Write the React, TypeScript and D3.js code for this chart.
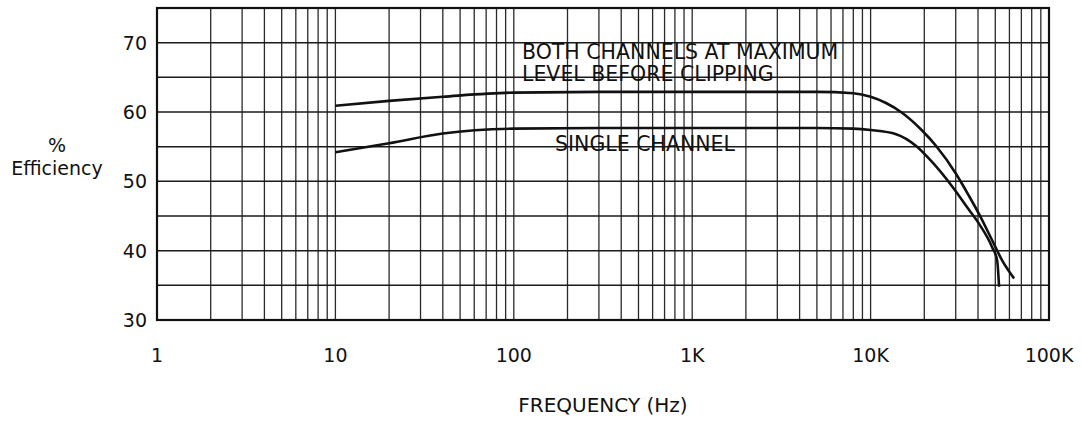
import React from "react";
import * as d3 from "d3";

const W = 1084;
const H = 421;

// X tick labels (Hz)
const xTickValues = [1, 10, 100, 1000, 10000, 100000];
const xTickLabels = ["1", "10", "100", "1K", "10K", "100K"];
// Y tick labels (%)
const yTickValues = [30, 40, 50, 60, 70];
const yGridValues = [35, 40, 45, 50, 55, 60, 65, 70];

// Both channels at maximum level before clipping
const freqBoth = [10, 20, 40, 100, 300, 1000, 5000, 8000, 10000, 12200, 15000, 19500, 23300, 30100, 35600, 40500, 48000, 54600, 63700];
const effBoth = [60.9, 61.6, 62.2, 62.8, 62.9, 62.9, 62.9, 62.7, 62.2, 61.3, 59.9, 57.3, 55.1, 51.1, 47.9, 45.3, 41.5, 38.6, 36.0];

// Single channel
const freqSingle = [10, 20, 40, 100, 300, 1000, 5000, 8000, 10000, 13900, 18000, 22100, 28600, 35600, 40500, 48000, 51200, 52500];
const effSingle = [54.2, 55.5, 56.9, 57.6, 57.7, 57.7, 57.7, 57.6, 57.4, 56.8, 55.1, 52.8, 49.3, 45.9, 43.9, 40.5, 38.6, 34.8];

const FONT = "'DejaVu Sans', sans-serif";

export default function App() {
  const x = d3.scaleLog().domain([1, 100000]).range([157, 1049]);
  const y = d3.scaleLinear().domain([30, 75]).range([320, 8]);

  const vLines: number[] = [];
  for (let d = 0; d < 5; d++) {
    for (let k = 2; k <= 9; k++) vLines.push(k * Math.pow(10, d));
    if (d > 0) vLines.push(Math.pow(10, d));
  }

  const line = d3
    .line<[number, number]>()
    .x((p) => x(p[0]))
    .y((p) => y(p[1]))
    .curve(d3.curveMonotoneX);

  const both = line(freqBoth.map((f, i) => [f, effBoth[i]] as [number, number])) || "";
  const single = line(freqSingle.map((f, i) => [f, effSingle[i]] as [number, number])) || "";

  const [x0, x1] = x.range();
  const [y0, y1] = [y(75), y(30)];

  return (
    <svg
      width={W}
      height={H}
      style={{ position: "absolute", left: 0, top: 0, background: "#fff" }}
      fontFamily={FONT}
    >
      <rect x={0} y={0} width={W} height={H} fill="#fff" />
      {/* grid */}
      {vLines.map((v, i) => (
        <line key={"v" + i} x1={x(v)} x2={x(v)} y1={y0} y2={y1} stroke="#2a2a2a" strokeWidth={1.3} />
      ))}
      {yGridValues.map((v, i) => (
        <line key={"h" + i} x1={x0} x2={x1} y1={y(v)} y2={y(v)} stroke="#1a1a1a" strokeWidth={1.5} />
      ))}
      {/* border */}
      <rect x={x0} y={y0} width={x1 - x0} height={y1 - y0} fill="none" stroke="#111" strokeWidth={2.2} />

      {/* curves */}
      <path d={both} fill="none" stroke="#111" strokeWidth={2.6} />
      <path d={single} fill="none" stroke="#111" strokeWidth={2.6} />

      {/* annotations */}
      <text x={522} y={59} fontSize={20.5} fill="#111">BOTH CHANNELS AT MAXIMUM</text>
      <text x={522} y={81} fontSize={20.5} fill="#111">LEVEL BEFORE CLIPPING</text>
      <text x={555} y={151} fontSize={20.5} fill="#111">SINGLE CHANNEL</text>

      {/* y ticks */}
      {yTickValues.map((v) => (
        <text key={"yt" + v} x={147} y={y(v)} fontSize={19} textAnchor="end" dominantBaseline="central" fill="#111">
          {v}
        </text>
      ))}
      {/* x ticks */}
      {xTickValues.map((v, i) => (
        <text key={"xt" + v} x={x(v)} y={355} fontSize={19} textAnchor="middle" dominantBaseline="central" fill="#111">
          {xTickLabels[i]}
        </text>
      ))}

      {/* axis titles */}
      <text x={57} y={152} fontSize={19} textAnchor="middle" fill="#111">%</text>
      <text x={57} y={175} fontSize={19} textAnchor="middle" fill="#111">Efficiency</text>
      <text x={(x0 + x1) / 2} y={412} fontSize={20} textAnchor="middle" fill="#111">FREQUENCY (Hz)</text>
    </svg>
  );
}
